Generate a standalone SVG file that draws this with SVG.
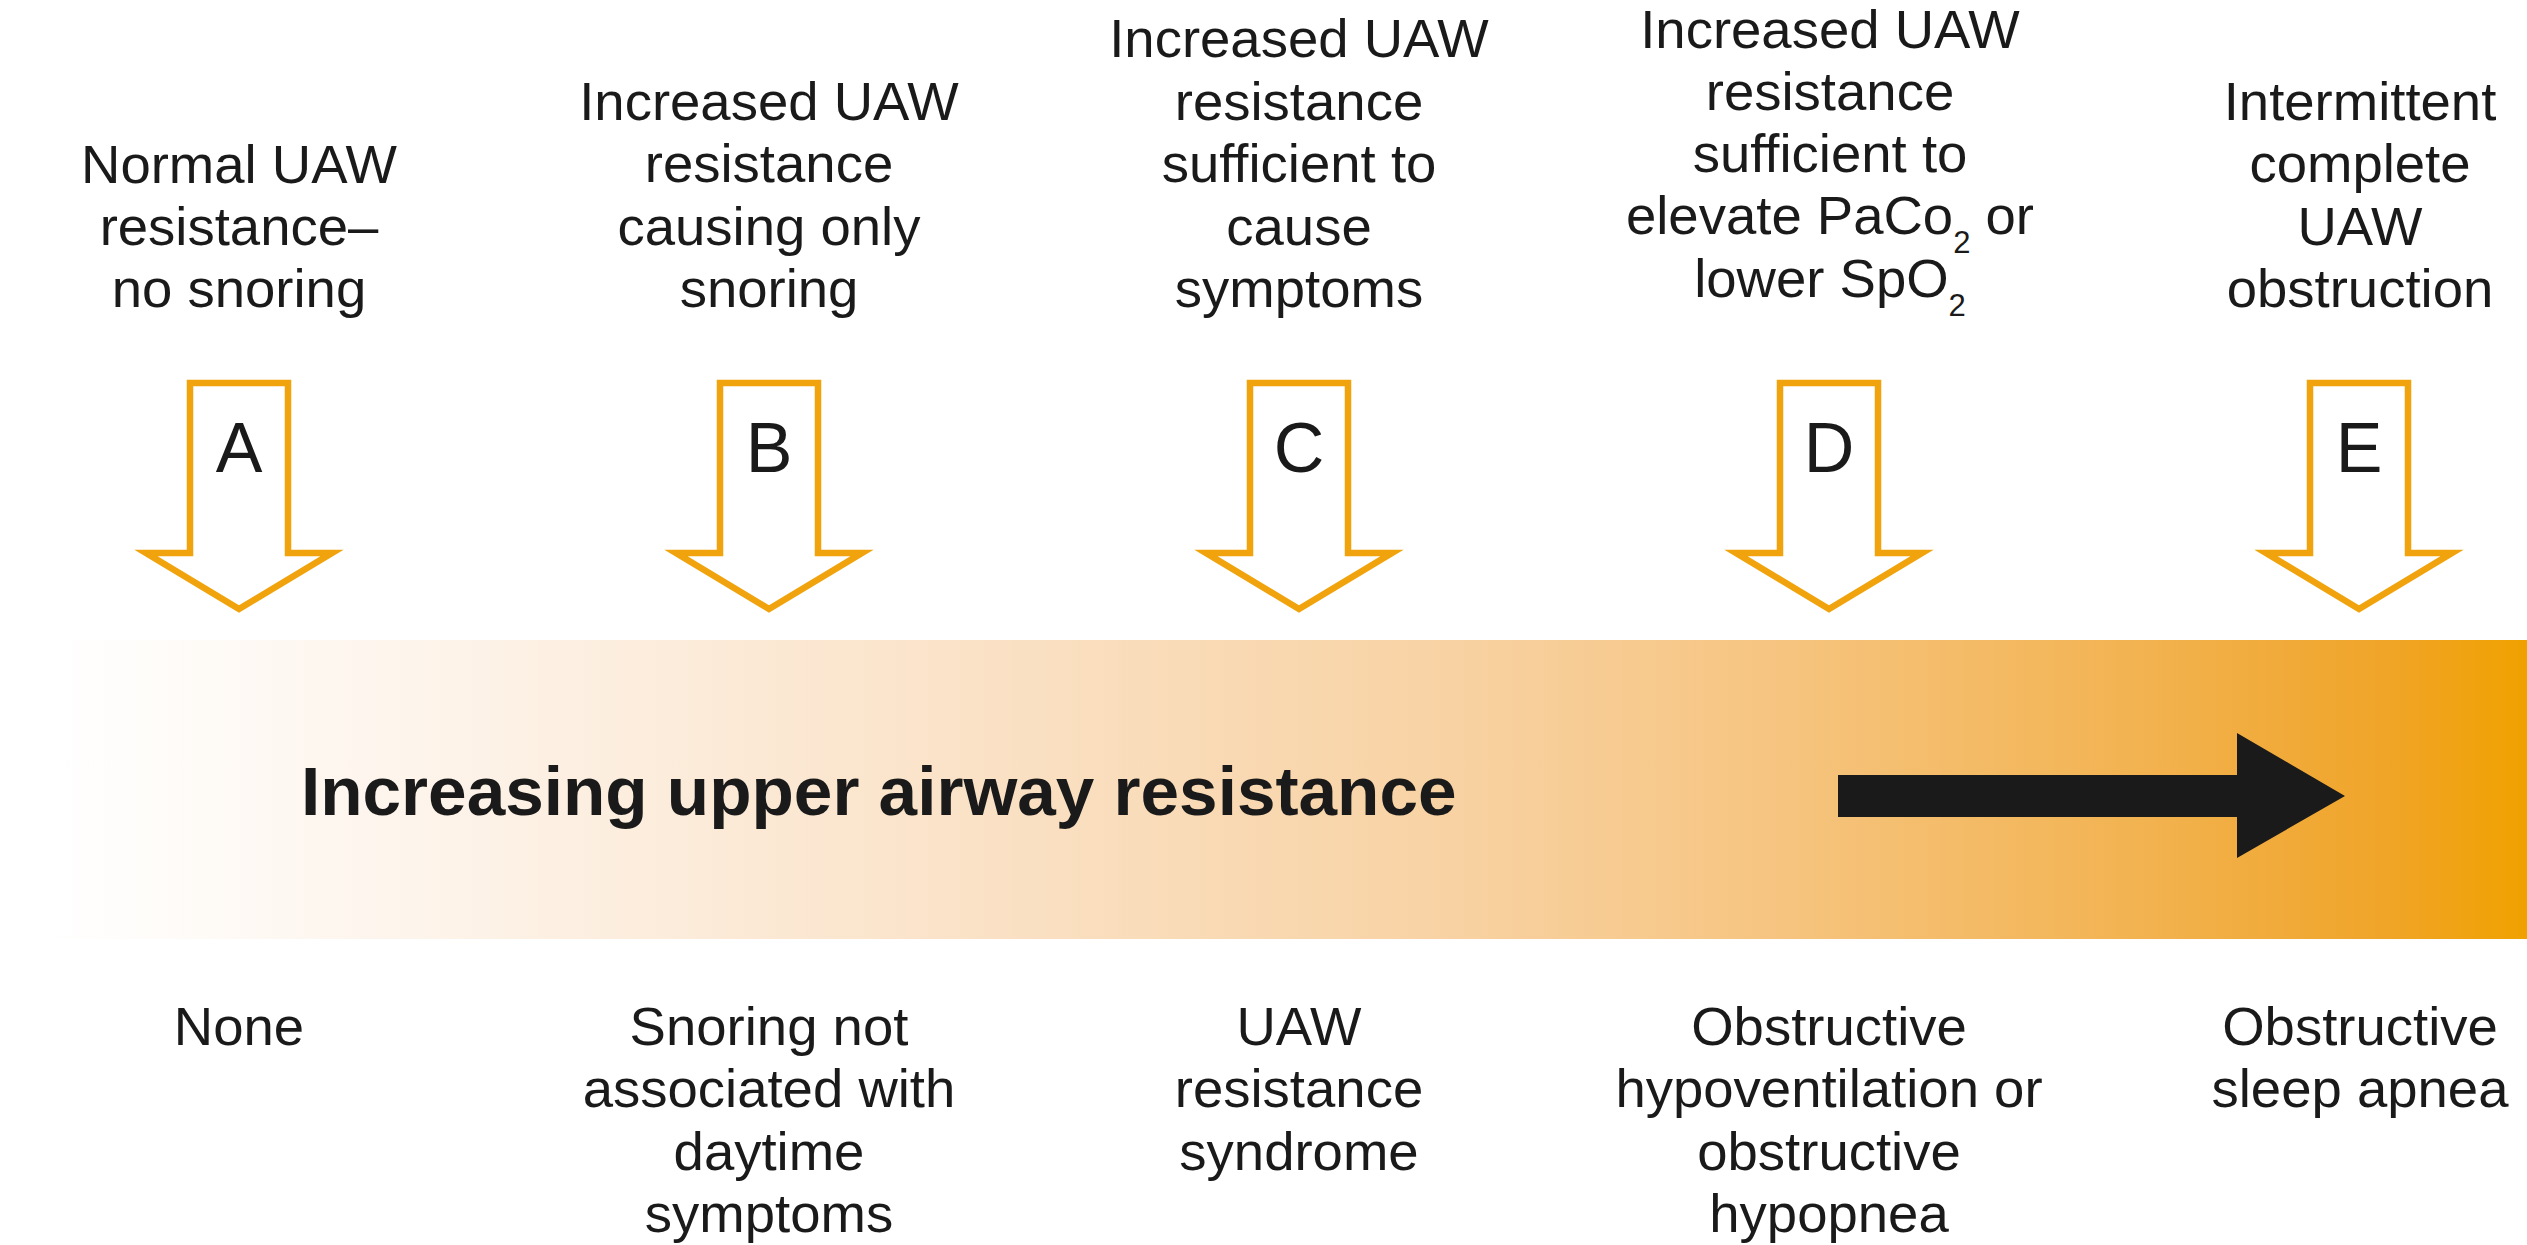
<svg xmlns="http://www.w3.org/2000/svg" width="2527" height="1245" viewBox="0 0 2527 1245">
<style>
text{font-family:"Liberation Sans",Arial,sans-serif;fill:#1a1a1a;text-anchor:middle}
.lbl{font-size:54.5px}
.let{font-size:70px}
.sub{font-size:31px}
.title{font-size:69.3px;font-weight:bold;text-anchor:start}
.down{fill:#ffffff;stroke:#F0A30C;stroke-width:6.5;stroke-linejoin:miter;stroke-miterlimit:10}
</style>
<defs>
<linearGradient id="band" x1="50" y1="0" x2="2527" y2="0" gradientUnits="userSpaceOnUse">
<stop offset="0" stop-color="#FFFFFF"/>
<stop offset="0.175" stop-color="#FDF2E7"/>
<stop offset="0.37" stop-color="#FAE2C7"/>
<stop offset="0.565" stop-color="#F8D2A3"/>
<stop offset="0.70" stop-color="#F6C47F"/>
<stop offset="0.848" stop-color="#F2B24F"/>
<stop offset="0.94" stop-color="#F0A52A"/>
<stop offset="1" stop-color="#F0A100"/>
</linearGradient>
<path id="darrow" class="down" d="M-49,383 H49 V553 H93 L0,609 L-93,553 H-49 Z"/>
</defs>
<rect width="2527" height="1245" fill="#ffffff"/>
<g id="band-bar">
<rect x="50" y="640" width="2477" height="299" fill="url(#band)"/>
<text class="title" x="301" y="815">Increasing upper airway resistance</text>
</g>
<g id="connectors">
<path id="progress-arrow" d="M1838,775 H2237 V733 L2345,796 L2237,858 V817 H1838 Z" fill="#1a1a1a"/>
</g>
<g id="node-A">
<text class="lbl" x="239" y="183">Normal UAW</text>
<text class="lbl" x="239" y="245">resistance–</text>
<text class="lbl" x="239" y="307">no snoring</text>
<use href="#darrow" x="239" y="0"/>
<text class="let" x="239" y="472">A</text>
<text class="lbl" x="239" y="1045">None</text>
</g>
<g id="node-B">
<text class="lbl" x="769" y="120">Increased UAW</text>
<text class="lbl" x="769" y="182">resistance</text>
<text class="lbl" x="769" y="245">causing only</text>
<text class="lbl" x="769" y="307">snoring</text>
<use href="#darrow" x="769" y="0"/>
<text class="let" x="769" y="472">B</text>
<text class="lbl" x="769" y="1045">Snoring not</text>
<text class="lbl" x="769" y="1107">associated with</text>
<text class="lbl" x="769" y="1170">daytime</text>
<text class="lbl" x="769" y="1232">symptoms</text>
</g>
<g id="node-C">
<text class="lbl" x="1299" y="57">Increased UAW</text>
<text class="lbl" x="1299" y="120">resistance</text>
<text class="lbl" x="1299" y="182">sufficient to</text>
<text class="lbl" x="1299" y="245">cause</text>
<text class="lbl" x="1299" y="307">symptoms</text>
<use href="#darrow" x="1299" y="0"/>
<text class="let" x="1299" y="472">C</text>
<text class="lbl" x="1299" y="1045">UAW</text>
<text class="lbl" x="1299" y="1107">resistance</text>
<text class="lbl" x="1299" y="1170">syndrome</text>
</g>
<g id="node-D">
<text class="lbl" x="1830" y="48">Increased UAW</text>
<text class="lbl" x="1830" y="110">resistance</text>
<text class="lbl" x="1830" y="172">sufficient to</text>
<text class="lbl" x="1830" y="234">elevate PaCo<tspan class="sub" dy="19">2</tspan><tspan dy="-19"> or</tspan></text>
<text class="lbl" x="1830" y="297">lower SpO<tspan class="sub" dy="19">2</tspan></text>
<use href="#darrow" x="1829" y="0"/>
<text class="let" x="1829" y="472">D</text>
<text class="lbl" x="1829" y="1045">Obstructive</text>
<text class="lbl" x="1829" y="1107">hypoventilation or</text>
<text class="lbl" x="1829" y="1170">obstructive</text>
<text class="lbl" x="1829" y="1232">hypopnea</text>
</g>
<g id="node-E">
<text class="lbl" x="2360" y="120">Intermittent</text>
<text class="lbl" x="2360" y="182">complete</text>
<text class="lbl" x="2360" y="245">UAW</text>
<text class="lbl" x="2360" y="307">obstruction</text>
<use href="#darrow" x="2359" y="0"/>
<text class="let" x="2359" y="472">E</text>
<text class="lbl" x="2360" y="1045">Obstructive</text>
<text class="lbl" x="2360" y="1107">sleep apnea</text>
</g>
</svg>
